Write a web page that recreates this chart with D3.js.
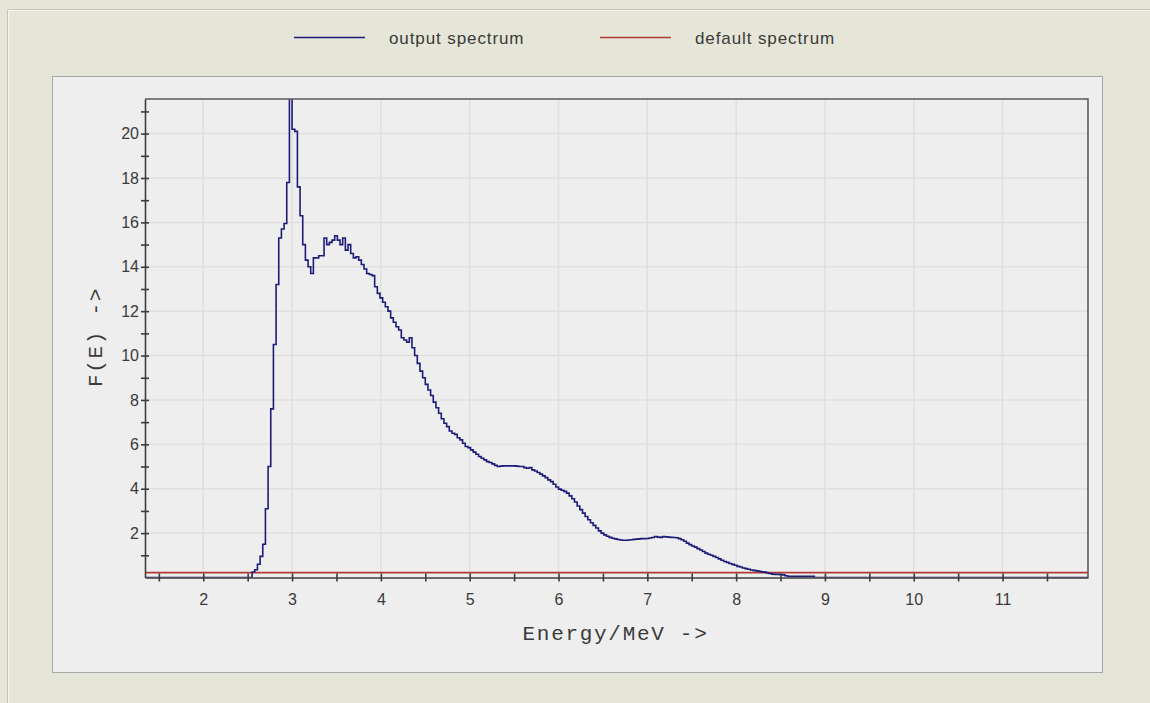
<!DOCTYPE html>
<html>
<head>
<meta charset="utf-8">
<script src="https://cdn.jsdelivr.net/npm/d3@7"></script>
<style>
  body { margin: 0; background: #e6e6d8; }
  svg { display: block; }
</style>
</head>
<body>
<svg id="chart" width="1150" height="703"></svg>
<script>
// Unfolded neutron spectrum F(E) in energy bins, plus the flat default spectrum.
const BIN_START = 2.55;      // MeV, lower edge of the first bin
const BIN_WIDTH = 0.03;      // MeV
const OUTPUT_SPECTRUM = [
  0.25, 0.35, 0.6, 0.95, 1.5, 3.1, 5.0, 7.6, 10.5, 13.2,
  15.3, 15.7, 15.95, 17.8, 22.6, 20.2, 20.1, 17.6, 16.3, 15.0,
  14.3, 14.0, 13.7, 14.4, 14.4, 14.5, 14.5, 15.3, 15.0, 15.1,
  15.2, 15.4, 15.2, 15.0, 15.3, 14.75, 15.0, 14.6, 14.4, 14.45,
  14.3, 14.1, 13.9, 13.7, 13.65, 13.6, 13.1, 12.8, 12.6, 12.4,
  12.2, 12.0, 11.7, 11.5, 11.3, 11.15, 10.8, 10.7, 10.6, 10.8,
  10.35, 10.0, 9.65, 9.3, 9.0, 8.7, 8.45, 8.2, 7.9, 7.65,
  7.4, 7.15, 6.95, 6.8, 6.6, 6.5, 6.45, 6.3, 6.2, 6.05,
  5.9, 5.85, 5.75, 5.65, 5.55, 5.45, 5.37, 5.3, 5.22, 5.18,
  5.12, 5.05, 5.0, 5.02, 5.03, 5.03, 5.03, 5.03, 5.03, 5.02,
  5.0, 5.0, 4.95, 4.92, 4.95, 4.85, 4.8, 4.73, 4.66, 4.58,
  4.5, 4.4, 4.32, 4.2, 4.08, 3.98, 3.93, 3.88, 3.8, 3.68,
  3.55, 3.4, 3.22, 3.06, 2.9, 2.75, 2.6, 2.47, 2.35, 2.23,
  2.1, 2.0, 1.92, 1.86, 1.81, 1.77, 1.74, 1.71, 1.69, 1.68,
  1.68, 1.69, 1.7, 1.72, 1.73, 1.74, 1.75, 1.75, 1.76, 1.78,
  1.8, 1.85, 1.82, 1.81, 1.84, 1.83, 1.82, 1.81, 1.8, 1.79,
  1.75, 1.7, 1.63, 1.55, 1.48, 1.42, 1.37, 1.3, 1.24, 1.17,
  1.1, 1.05, 1.0, 0.95, 0.9, 0.84, 0.78, 0.72, 0.68, 0.63,
  0.59, 0.55, 0.5, 0.47, 0.43, 0.4, 0.37, 0.34, 0.32, 0.3,
  0.28, 0.26, 0.24, 0.21, 0.18, 0.15, 0.14, 0.14, 0.13, 0.12,
  0.08, 0.05, 0.05, 0.05, 0.05, 0.05, 0.05, 0.05, 0.05, 0.05,
  0.05, 0
];
const DEFAULT_LEVEL = 0.22;

const X_DOMAIN = [1.344, 11.962];
const Y_DOMAIN = [0, 21.56];
const X_MAJOR = [2, 3, 4, 5, 6, 7, 8, 9, 10, 11];
const X_MINOR = [1.5, 2.5, 3.5, 4.5, 5.5, 6.5, 7.5, 8.5, 9.5, 10.5, 11.5];
const Y_MAJOR = [2, 4, 6, 8, 10, 12, 14, 16, 18, 20];
const Y_MINOR = [1, 3, 5, 7, 9, 11, 13, 15, 17, 19, 21];

const LEGEND = [
  { label: "output spectrum", color: "#1c1c78", x: 294 },
  { label: "default spectrum", color: "#b23a36", x: 600 }
];

const svg = d3.select("#chart");
const W = 1150, H = 703;
const plot = { left: 145, right: 1088, top: 99, bottom: 577.5 };

const x = d3.scaleLinear().domain(X_DOMAIN).range([plot.left, plot.right]);
const y = d3.scaleLinear().domain(Y_DOMAIN).range([plot.bottom, plot.top]);

// window background and frame
svg.append("rect").attr("width", W).attr("height", H).attr("fill", "#e6e6d8");
svg.append("path").attr("d", `M7.5,${H} V9.5 H${W}`)
  .attr("fill", "none").attr("stroke", "#c4c4ba").attr("stroke-width", 1);
svg.append("path").attr("d", `M8.5,${H} V10.5 H${W}`)
  .attr("fill", "none").attr("stroke", "#f6f6ee").attr("stroke-width", 1);

// chart panel
svg.append("rect")
  .attr("x", 52.5).attr("y", 76.5).attr("width", 1050).attr("height", 596)
  .attr("fill", "#eeeeee").attr("stroke", "#a8a8a8");

// grid
const grid = svg.append("g").attr("stroke", "#dfdfdf").attr("stroke-width", 1.5);
grid.selectAll("line.gx").data(X_MAJOR).join("line")
  .attr("x1", d => x(d)).attr("x2", d => x(d))
  .attr("y1", plot.top).attr("y2", plot.bottom);
grid.selectAll("line.gy").data(Y_MAJOR).join("line")
  .attr("x1", plot.left).attr("x2", plot.right)
  .attr("y1", d => y(d)).attr("y2", d => y(d));

// series, clipped to the plot area
svg.append("clipPath").attr("id", "plot-clip")
  .append("rect").attr("x", plot.left).attr("y", plot.top)
  .attr("width", plot.right - plot.left).attr("height", plot.bottom - plot.top);

const series = svg.append("g").attr("clip-path", "url(#plot-clip)");

series.append("line")
  .attr("x1", x(X_DOMAIN[0])).attr("x2", x(X_DOMAIN[1]))
  .attr("y1", y(DEFAULT_LEVEL)).attr("y2", y(DEFAULT_LEVEL))
  .attr("stroke", LEGEND[1].color).attr("stroke-width", 1.6);

const pts = [[X_DOMAIN[0], 0]]
  .concat(OUTPUT_SPECTRUM.map((v, i) => [BIN_START + i * BIN_WIDTH, v]))
  .concat([[X_DOMAIN[1], 0]]);

const step = d3.line().x(d => x(d[0])).y(d => y(d[1])).curve(d3.curveStepAfter);
series.append("path").datum(pts)
  .attr("d", step)
  .attr("fill", "none")
  .attr("stroke", LEGEND[0].color)
  .attr("stroke-width", 1.6)
  .attr("stroke-linejoin", "miter");

// top and right frame
svg.append("path")
  .attr("d", `M${plot.left},${plot.top} H${plot.right} V${plot.bottom}`)
  .attr("fill", "none").attr("stroke", "#5a5a5a").attr("stroke-width", 1.6);

// axes (ticks cross the axis line)
const fontSans = "'Liberation Sans', Arial, sans-serif";
const fontMono = "'Courier New', 'Liberation Mono', monospace";

const xAxis = svg.append("g").attr("transform", `translate(0,${plot.bottom})`)
  .call(d3.axisBottom(x)
    .tickValues(X_MAJOR.concat(X_MINOR))
    .tickFormat(d => Number.isInteger(d) ? String(d) : "")
    .tickSize(4).tickSizeOuter(0));
xAxis.select(".domain").attr("stroke", "#3c3c3c").attr("stroke-width", 1.6);
xAxis.selectAll(".tick line").attr("y1", -4).attr("y2", 4)
  .attr("stroke", "#3c3c3c").attr("stroke-width", 1.6);
xAxis.selectAll(".tick text").attr("y", 27).attr("dy", null)
  .attr("fill", "#3a3a3a").style("font", `16px ${fontSans}`);

const yAxis = svg.append("g").attr("transform", `translate(${plot.left},0)`)
  .call(d3.axisLeft(y)
    .tickValues(Y_MAJOR.concat(Y_MINOR))
    .tickFormat(d => d % 2 === 0 ? String(d) : "")
    .tickSize(4).tickSizeOuter(0));
yAxis.select(".domain").attr("stroke", "#3c3c3c").attr("stroke-width", 1.6);
yAxis.selectAll(".tick line").attr("x1", -4).attr("x2", 4)
  .attr("stroke", "#3c3c3c").attr("stroke-width", 1.6);
yAxis.selectAll(".tick text").attr("x", -6)
  .attr("fill", "#3a3a3a").style("font", `16px ${fontSans}`);

// axis titles
svg.append("text")
  .attr("x", (plot.left + plot.right) / 2 - 1).attr("y", 640)
  .attr("text-anchor", "middle")
  .attr("fill", "#3a3a3a")
  .style("font", `21px ${fontMono}`).style("letter-spacing", "1.7px")
  .text("Energy/MeV ->");

svg.append("text")
  .attr("transform", "translate(96,337) rotate(-90)")
  .attr("text-anchor", "middle")
  .attr("dominant-baseline", "central")
  .attr("fill", "#3a3a3a")
  .style("font", `21px ${fontMono}`).style("letter-spacing", "1.7px")
  .text("F(E) ->");

// legend
const leg = svg.append("g");
LEGEND.forEach(item => {
  leg.append("line")
    .attr("x1", item.x).attr("x2", item.x + 71)
    .attr("y1", 37.5).attr("y2", 37.5)
    .attr("stroke", item.color).attr("stroke-width", 1.6);
  leg.append("text")
    .attr("x", item.x + 95).attr("y", 44)
    .attr("fill", "#3a3a3a")
    .style("font", `17px ${fontSans}`).style("letter-spacing", "0.9px")
    .text(item.label);
});
</script>
</body>
</html>
